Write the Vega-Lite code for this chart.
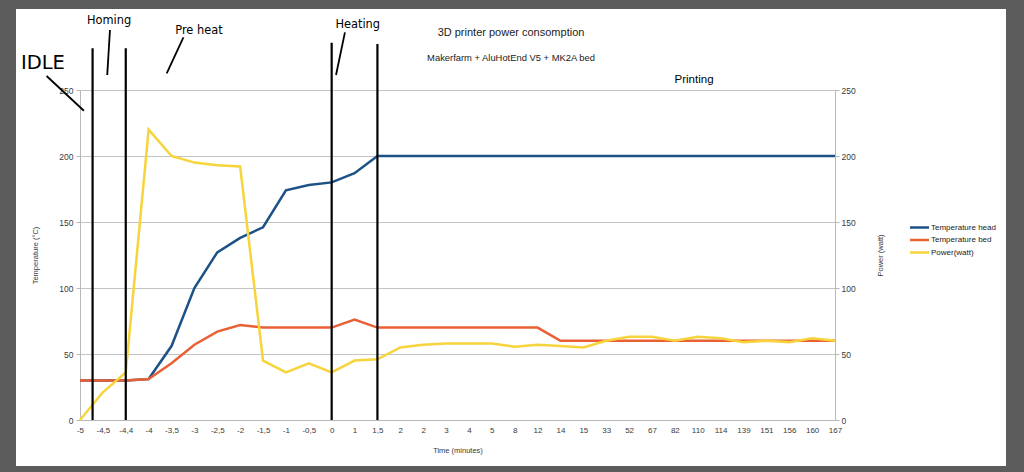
{
  "$schema": "https://vega.github.io/schema/vega-lite/v6.json",
  "width": 990,
  "height": 457,
  "autosize": {"type": "none"},
  "padding": {"left": 16, "top": 9, "right": 18, "bottom": 6},
  "background": "#5c5c5c",
  "view": {"fill": "#ffffff", "stroke": null},
  "title": {
    "text": "3D printer power consomption",
    "subtitle": "Makerfarm + AluHotEnd V5 + MK2A bed",
    "anchor": "middle",
    "frame": "group",
    "offset": -53,
    "font": "Liberation Sans",
    "fontSize": 11,
    "fontWeight": "normal",
    "color": "#222222",
    "subtitleFont": "Liberation Sans",
    "subtitleFontSize": 9.4,
    "subtitleColor": "#222222",
    "subtitlePadding": 16
  },
  "config": {
    "axis": {
      "labelFont": "Liberation Sans",
      "titleFont": "Liberation Sans",
      "labelColor": "#3a3a3a",
      "titleColor": "#3a3a3a",
      "titleFontWeight": "normal"
    }
  },
  "data": {
    "values": [
      {"k": 0, "t": "-5", "head": 30, "bed": 30, "power": 0},
      {"k": 1, "t": "-4,5", "head": 30, "bed": 30, "power": 21},
      {"k": 2, "t": "-4,4", "head": 30, "bed": 30, "power": 36},
      {"k": 3, "t": "-4", "head": 31, "bed": 31, "power": 220},
      {"k": 4, "t": "-3,5", "head": 56, "bed": 43, "power": 200},
      {"k": 5, "t": "-3", "head": 100, "bed": 57, "power": 195},
      {"k": 6, "t": "-2,5", "head": 127, "bed": 67, "power": 193},
      {"k": 7, "t": "-2", "head": 138, "bed": 72, "power": 192},
      {"k": 8, "t": "-1,5", "head": 146, "bed": 70, "power": 45},
      {"k": 9, "t": "-1", "head": 174, "bed": 70, "power": 36},
      {"k": 10, "t": "-0,5", "head": 178, "bed": 70, "power": 43},
      {"k": 11, "t": "0", "head": 180, "bed": 70, "power": 36},
      {"k": 12, "t": "1", "head": 187, "bed": 76, "power": 45},
      {"k": 13, "t": "1,5", "head": 200, "bed": 70, "power": 46},
      {"k": 14, "t": "2", "head": 200, "bed": 70, "power": 55},
      {"k": 15, "t": "2", "head": 200, "bed": 70, "power": 57},
      {"k": 16, "t": "3", "head": 200, "bed": 70, "power": 58},
      {"k": 17, "t": "4", "head": 200, "bed": 70, "power": 58},
      {"k": 18, "t": "5", "head": 200, "bed": 70, "power": 58},
      {"k": 19, "t": "8", "head": 200, "bed": 70, "power": 55.5},
      {"k": 20, "t": "12", "head": 200, "bed": 70, "power": 57},
      {"k": 21, "t": "14", "head": 200, "bed": 60, "power": 56},
      {"k": 22, "t": "15", "head": 200, "bed": 60, "power": 55},
      {"k": 23, "t": "33", "head": 200, "bed": 60, "power": 60},
      {"k": 24, "t": "52", "head": 200, "bed": 60, "power": 63},
      {"k": 25, "t": "67", "head": 200, "bed": 60, "power": 63},
      {"k": 26, "t": "82", "head": 200, "bed": 60, "power": 60},
      {"k": 27, "t": "110", "head": 200, "bed": 60, "power": 63},
      {"k": 28, "t": "114", "head": 200, "bed": 60, "power": 62},
      {"k": 29, "t": "139", "head": 200, "bed": 60, "power": 59},
      {"k": 30, "t": "151", "head": 200, "bed": 60, "power": 60},
      {"k": 31, "t": "156", "head": 200, "bed": 60, "power": 59},
      {"k": 32, "t": "160", "head": 200, "bed": 60, "power": 62},
      {"k": 33, "t": "167", "head": 200, "bed": 60, "power": 60}
    ]
  },
  "encoding": {
    "x": {
      "field": "k",
      "type": "quantitative",
      "title": "Time (minutes)",
      "scale": {"domain": [0, 33], "range": [64, 819], "nice": false, "zero": false},
      "axis": {
        "orient": "bottom",
        "offset": -46,
        "values": [0,1,2,3,4,5,6,7,8,9,10,11,12,13,14,15,16,17,18,19,20,21,22,23,24,25,26,27,28,29,30,31,32,33],
        "labelExpr": "['-5','-4,5','-4,4','-4','-3,5','-3','-2,5','-2','-1,5','-1','-0,5','0','1','1,5','2','2','3','4','5','8','12','14','15','33','52','67','82','110','114','139','151','156','160','167'][datum.value]",
        "grid": false,
        "ticks": false,
        "domainColor": "#b8b8b8",
        "labelPadding": 6,
        "labelFontSize": 8,
        "labelOverlap": false,
        "labelFlush": false,
        "titleFontSize": 7.5,
        "titlePadding": 12
      }
    }
  },
  "layer": [
    {
      "mark": {"type": "line", "strokeWidth": 2.5},
      "encoding": {
        "y": {
          "field": "head",
          "type": "quantitative",
          "title": "Temperature (°C)",
          "scale": {"domain": [0, 250], "range": [411, 81], "nice": false, "zero": false},
          "axis": {
            "orient": "left",
            "offset": -64,
            "values": [0, 50, 100, 150, 200, 250],
            "grid": true,
            "gridColor": "#c4c4c4",
            "domainColor": "#b8b8b8",
            "tickColor": "#b8b8b8",
            "tickSize": 4,
            "labelPadding": 3,
            "labelFontSize": 8.5,
            "titleFontSize": 7.5,
            "titlePadding": 19
          }
        },
        "color": {
          "datum": "Temperature head",
          "scale": {
            "domain": ["Temperature head", "Temperature bed", "Power(watt)"],
            "range": ["#1d5287", "#ea6035", "#f7d43c"]
          },
          "legend": {
            "title": null,
            "orient": "none",
            "legendX": 897,
            "legendY": 212,
            "padding": 0,
            "symbolType": "M-1.9,0H1.9",
            "symbolSize": 100,
            "symbolStrokeWidth": 2.5,
            "labelFont": "Liberation Sans",
            "labelFontSize": 8,
            "labelColor": "#222222",
            "labelOffset": 5,
            "rowPadding": 0.5
          }
        }
      }
    },
    {
      "mark": {"type": "line", "strokeWidth": 2.5},
      "encoding": {
        "y": {
          "field": "bed",
          "type": "quantitative",
          "scale": {"domain": [0, 250], "range": [411, 81], "nice": false, "zero": false},
          "axis": null
        },
        "color": {"datum": "Temperature bed"}
      }
    },
    {
      "mark": {"type": "line", "strokeWidth": 2.5},
      "encoding": {
        "y": {
          "field": "power",
          "type": "quantitative",
          "title": "Power (watt)",
          "scale": {"domain": [0, 250], "range": [411, 81], "nice": false, "zero": false},
          "axis": {
            "orient": "right",
            "offset": -171,
            "values": [0, 50, 100, 150, 200, 250],
            "grid": false,
            "domainColor": "#b8b8b8",
            "tickColor": "#b8b8b8",
            "tickSize": 4,
            "labelPadding": 2,
            "labelFontSize": 8.5,
            "titleFontSize": 7.5,
            "titleAngle": 270,
            "titlePadding": 29
          }
        },
        "color": {"datum": "Power(watt)"}
      }
    },
    {
      "layer": [
        {
          "data": {
            "values": [
              {"k": 0.55, "bottom": 0, "top": 281.7},
              {"k": 2, "bottom": 0, "top": 281.7},
              {"k": 11, "bottom": 0, "top": 285.8},
              {"k": 13, "bottom": 0, "top": 284.8}
            ]
          },
          "mark": {"type": "rule", "color": "#000000", "strokeWidth": 2.2},
          "encoding": {
            "y": {
              "field": "bottom",
              "type": "quantitative",
              "scale": {"domain": [0, 250], "range": [411, 81], "nice": false, "zero": false},
              "axis": null
            },
            "y2": {"field": "top"}
          }
        },
        {
          "data": {
            "values": [
              {"g": "IDLE", "k": -1.46, "v": 260.6},
              {"g": "IDLE", "k": 0.17, "v": 234.3},
              {"g": "Homing", "k": 1.31, "v": 295.5},
              {"g": "Homing", "k": 1.19, "v": 261.4},
              {"g": "Pre heat", "k": 4.52, "v": 289.9},
              {"g": "Pre heat", "k": 3.79, "v": 262.6},
              {"g": "Heating", "k": 11.58, "v": 293.7},
              {"g": "Heating", "k": 11.19, "v": 261.4}
            ]
          },
          "mark": {"type": "line", "color": "#000000", "strokeWidth": 1.8},
          "encoding": {
            "y": {"field": "v", "type": "quantitative", "axis": null},
            "detail": {"field": "g"}
          }
        },
        {
          "data": {"values": [{"label": "IDLE", "k": -1.62, "v": 265.9}]},
          "mark": {"type": "text", "font": "DejaVu Sans", "fontSize": 19.5, "align": "center", "baseline": "alphabetic", "color": "#000000"},
          "encoding": {
            "y": {"field": "v", "type": "quantitative", "axis": null},
            "text": {"field": "label"}
          }
        },
        {
          "data": {
            "values": [
              {"label": "Homing", "k": 1.27, "v": 299.8},
              {"label": "Pre heat", "k": 5.2, "v": 292.4},
              {"label": "Heating", "k": 12.14, "v": 296.7}
            ]
          },
          "mark": {"type": "text", "font": "DejaVu Sans", "fontSize": 11.4, "align": "center", "baseline": "alphabetic", "color": "#000000"},
          "encoding": {
            "y": {"field": "v", "type": "quantitative", "axis": null},
            "text": {"field": "label"}
          }
        },
        {
          "data": {"values": [{"label": "Printing", "k": 26.84, "v": 255}]},
          "mark": {"type": "text", "font": "Liberation Sans", "fontSize": 11.5, "align": "center", "baseline": "alphabetic", "color": "#000000"},
          "encoding": {
            "y": {"field": "v", "type": "quantitative", "axis": null},
            "text": {"field": "label"}
          }
        }
      ]
    }
  ],
  "resolve": {"scale": {"y": "independent"}}
}
